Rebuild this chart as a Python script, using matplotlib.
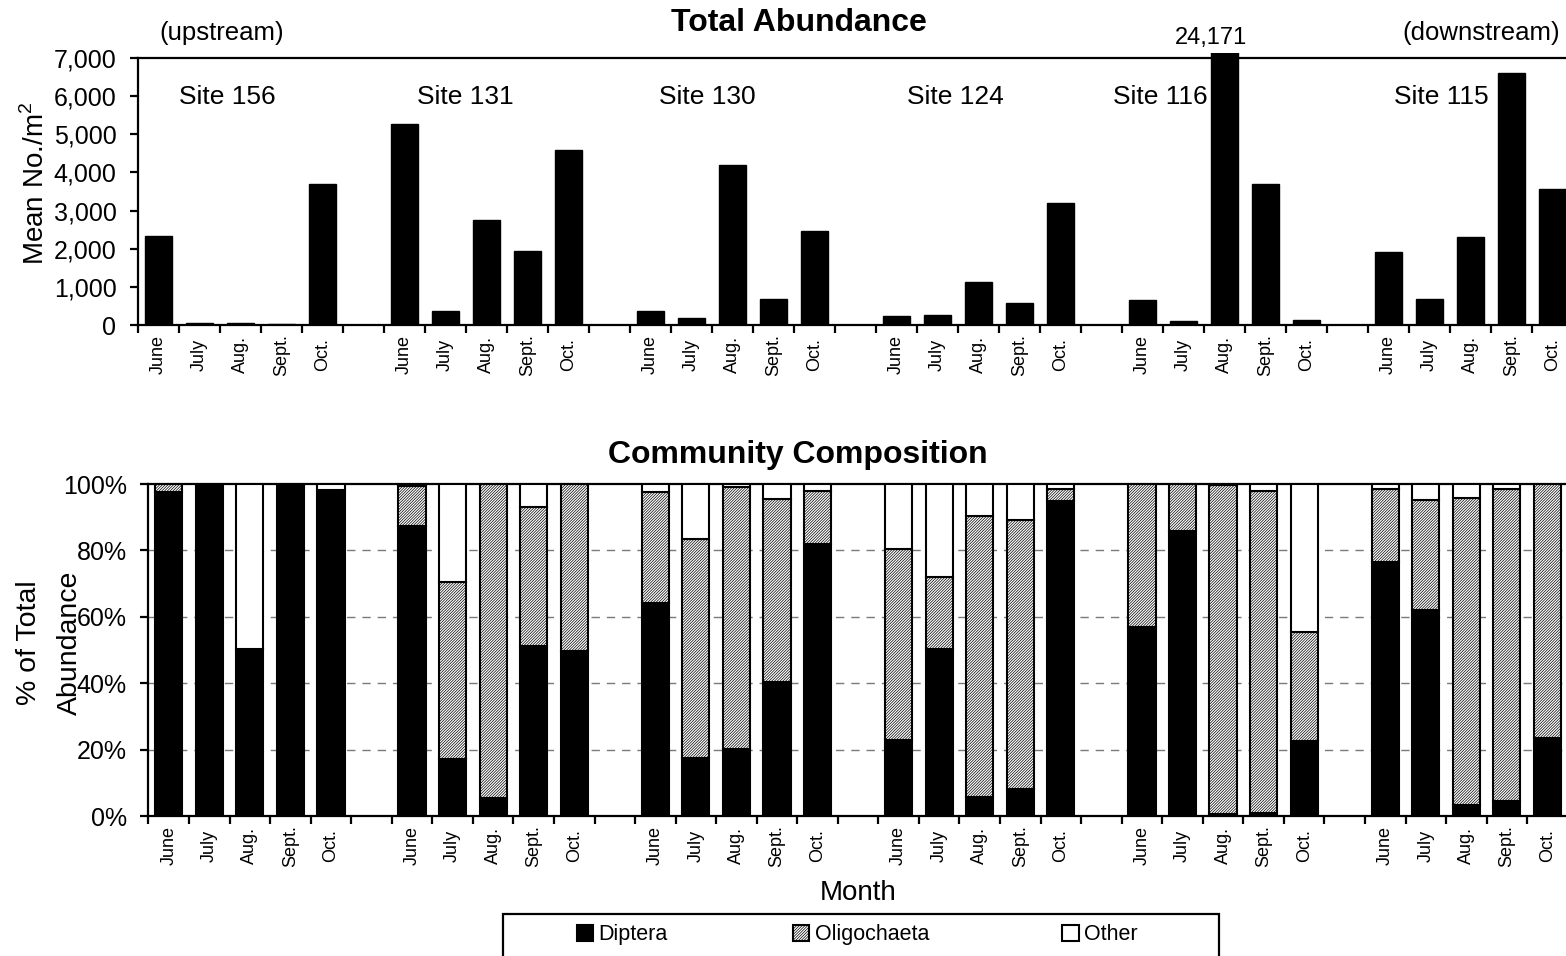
import numpy as np
import matplotlib.pyplot as plt
from matplotlib.patches import Patch, Rectangle
from matplotlib.ticker import FuncFormatter
from matplotlib.transforms import Bbox, TransformedBbox

plt.rcParams['font.family'] = ['Liberation Sans', 'DejaVu Sans']
plt.rcParams['mathtext.fontset'] = 'custom'
plt.rcParams['mathtext.rm'] = 'Liberation Sans'
plt.rcParams['hatch.linewidth'] = 0.5

# Sites (upstream -> downstream) and sampling months
sites = ['Site 156', 'Site 131', 'Site 130', 'Site 124', 'Site 116', 'Site 115']
months = ['June', 'July', 'Aug.', 'Sept.', 'Oct.']

# Total abundance, mean no. per m2 (June..Oct for each site)
total_156 = [2340, 60, 45, 35, 3710]
total_131 = [5280, 370, 2760, 1940, 4580]
total_130 = [370, 180, 4190, 680, 2460]
total_124 = [230, 270, 1120, 580, 3200]
total_116 = [660, 100, 24171, 3700, 140]
total_115 = [1920, 680, 2320, 6620, 3560]

# Community composition, % of total abundance
diptera_156 = [97.7, 100, 50.3, 100, 98.2]
oligo_156 = [2.3, 0, 0, 0, 0]
diptera_131 = [87.4, 17.1, 5.3, 51.3, 49.7]
oligo_131 = [12.0, 53.5, 94.7, 41.7, 50.3]
diptera_130 = [64.2, 17.4, 20.3, 40.4, 81.9]
oligo_130 = [33.4, 66.1, 78.9, 55.0, 15.9]
diptera_124 = [22.8, 50.2, 5.7, 8.0, 95.0]
oligo_124 = [57.6, 21.8, 84.8, 81.3, 3.4]
diptera_116 = [56.8, 85.9, 0.5, 0.8, 22.7]
oligo_116 = [43.2, 14.1, 99.3, 97.0, 32.6]
diptera_115 = [76.5, 62.2, 3.3, 4.6, 23.5]
oligo_115 = [22.0, 33.0, 92.6, 93.9, 76.5]

# site label positions (in category units)
site_label_x = [1.69, 7.48, 13.38, 19.44, 24.43, 31.28]

total = [total_156, total_131, total_130, total_124, total_116, total_115]
diptera = [diptera_156, diptera_131, diptera_130, diptera_124, diptera_116, diptera_115]
oligo = [oligo_156, oligo_131, oligo_130, oligo_124, oligo_116, oligo_115]

# one category per month, one empty category between sites
x = np.array([s * 6 + m for s in range(len(sites)) for m in range(len(months))])
tot = np.array(total).ravel()
dip = np.array(diptera).ravel()
oli = np.array(oligo).ravel()
oth = np.clip(100 - dip - oli, 0, None)
labels = months * len(sites)

fig = plt.figure(figsize=(15.66, 9.56), dpi=100)
ax1 = fig.add_axes([0.0881, 0.6600, 0.9163, 0.2793])
ax2 = fig.add_axes([0.0948, 0.1464, 0.9063, 0.3473])

W = 0.67
HATCH = '////////////'


def style_axis(ax):
    ax.set_xlim(-0.5, 34.5)
    for side in ['left', 'bottom', 'top']:
        ax.spines[side].set_linewidth(1.6)
    ax.spines['right'].set_visible(False)
    ax.set_xticks(x)
    ax.set_xticklabels(labels, rotation=90, va='center', fontsize=13)
    ax.set_xticks(np.arange(-0.5, 35, 1), minor=True)
    ax.tick_params(axis='x', which='major', length=0, pad=21.5)
    ax.tick_params(axis='x', which='minor', length=6, width=1.6, direction='out')
    ax.tick_params(axis='y', length=6, width=1.6, direction='out', pad=9.5, labelsize=18)
    ax.tick_params(top=False, right=False, which='both')


# Step 1. Total abundance
bars = ax1.bar(x, tot, width=W, color='black', edgecolor='black', linewidth=1)
clip = TransformedBbox(Bbox([[0, 0], [1, 1.02]]), ax1.transAxes)
for b in bars:
    b.set_clip_path(None)
    b.set_clip_box(clip)
ax1.set_ylim(0, 7000)
ax1.set_yticks(np.arange(0, 7001, 1000))
ax1.yaxis.set_major_formatter(FuncFormatter(lambda v, p: f'{int(v):,}'))
style_axis(ax1)

for name, sx in zip(sites, site_label_x):
    ax1.text(sx, 5970, name, ha='center', va='center', fontsize=19)

# value of the off-scale bar
i_big = int(np.argmax(tot))
ax1.annotate(f'{tot[i_big]:,}', xy=(x[i_big], 7000), xytext=(-10, 14.5),
             textcoords='offset points', ha='center', va='center', fontsize=17)

# Step 2. Community composition (stacked %)
ax2.bar(x, dip, width=W, color='black', edgecolor='black', linewidth=1.5, zorder=3)
ax2.bar(x, oli, bottom=dip, width=W, facecolor='white', edgecolor='black',
        hatch=HATCH, linewidth=1.5, zorder=3)
ax2.bar(x, oth, bottom=dip + oli, width=W, facecolor='white', edgecolor='black',
        linewidth=1.5, zorder=3)
ax2.set_ylim(0, 100)
ax2.set_yticks(np.arange(0, 101, 20))
ax2.yaxis.set_major_formatter(FuncFormatter(lambda v, p: f'{int(v)}%'))
for g in [20, 40, 60, 80]:
    ax2.axhline(g, color='#7a7a7a', linewidth=1.0, linestyle=(0, (6, 5)), zorder=1)
style_axis(ax2)

# Step 3. Titles and axis labels
fig.text(0.5102, 0.9759, 'Total Abundance', ha='center', va='center',
         fontsize=23, fontweight='bold')
fig.text(0.5096, 0.5241, 'Community Composition', ha='center', va='center',
         fontsize=23, fontweight='bold')
fig.text(0.1418, 0.9655, '(upstream)', ha='center', va='center', fontsize=18.5)
fig.text(0.9457, 0.9655, '(downstream)', ha='center', va='center', fontsize=18.5)
fig.text(0.023, 0.8086, 'Mean No./m$^2$', rotation=90, ha='center', va='center',
         fontsize=20)
fig.text(0.0315, 0.3274, '% of Total\nAbundance', rotation=90, ha='center',
         va='center', fontsize=20.5, linespacing=1.72, multialignment='center')
fig.text(0.5479, 0.0659, 'Month', ha='center', va='center', fontsize=20)

# Step 4. Legend in a box along the bottom edge
fig.add_artist(Rectangle((503 / 1566, -0.02), (1219 - 503) / 1566, 0.0639,
                         transform=fig.transFigure, fill=False,
                         edgecolor='black', linewidth=1.6))
entries = [('Diptera', dict(facecolor='black')),
           ('Oligochaeta', dict(facecolor='white', hatch=HATCH)),
           ('Other', dict(facecolor='white'))]
cell_x = [622 / 1566, 861 / 1566, 1100 / 1566]
for (name, kw), cx in zip(entries, cell_x):
    h = Patch(edgecolor='black', linewidth=1.5, label=name, **kw)
    fig.legend(handles=[h], loc='center', bbox_to_anchor=(cx, 0.022),
               frameon=False, fontsize=15.5, handlelength=0.75, handleheight=0.75,
               handletextpad=0.25, borderpad=0)

plt.savefig('out.png', dpi=100)
